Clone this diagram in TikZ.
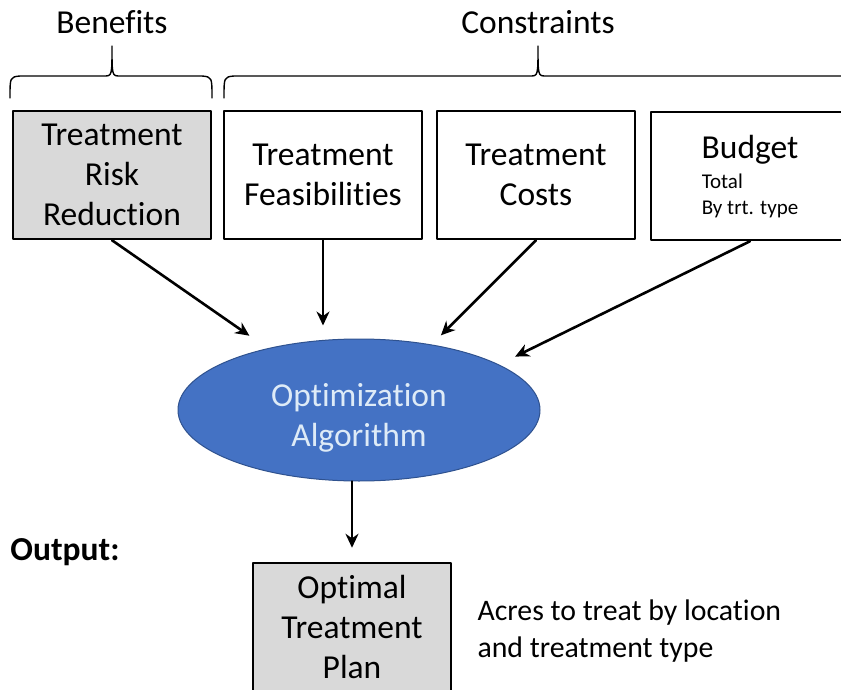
\documentclass[tikz,border=0pt]{standalone}
\usepackage{fontspec}
\setmainfont{Carlito}[Ligatures=NoCommon]
\usetikzlibrary{shapes.geometric, arrows.meta}
\definecolor{boxgray}{RGB}{217,217,217}
\definecolor{algoblue}{RGB}{68,114,196}
\definecolor{algoedge}{RGB}{47,82,143}
\definecolor{algotext}{RGB}{222,235,247}

\begin{document}
\begin{tikzpicture}[x=1pt, y=-1pt, line join=round, line cap=round,
	font=\fontsize{33.5}{40}\selectfont,
	box/.style={draw, line width=2.5pt, minimum width=198pt, minimum height=128pt, align=center, inner sep=2pt},
	arr/.style={-{Stealth[length=14pt, width=13pt]}, line width=2.6pt}]

	\useasboundingbox (0,0) rectangle (841,690);

	% --- headings and braces
	\node (ben) at (112,22) {Benefits};
	\node (con) at (538,22) {Constraints};
	\foreach \a/\m/\b in {10/112/212, 224/538/880} {
		\draw[line width=1.4pt] (\a,98) .. controls (\a,77) .. ({\a+10},76) -- ({\m-8},76) .. controls (\m,76) .. (\m,46) .. controls (\m,76) .. ({\m+8},76) -- ({\b-10},76) .. controls (\b,77) .. (\b,98);
	}

	% --- input boxes
	\node[box, fill=boxgray] (risk) at (112,175) {Treatment\\Risk\\Reduction};
	\node[box] (feas) at (323,175) {Treatment\\Feasibilities};
	\node[box] (cost) at (536,175) {Treatment\\Costs};
	\node[box] (budget) at (750,176) {\begin{tabular}{@{}c@{}}Budget\\[-10pt]
		\fontsize{21}{26}\selectfont\begin{tabular}[t]{@{}l@{}}Total\\By trt. type\end{tabular}\end{tabular}};

	% --- optimizer
	\node[ellipse, fill=algoblue, draw=algoedge, line width=1pt, minimum width=362pt, minimum height=142pt, text=algotext] (algo) at (359,410) {\raisebox{-8pt}[\height][\depth]{\begin{tabular}{@{}c@{}}Optimization\\Algorithm\end{tabular}}};

	\draw[arr, shorten >=22pt] (risk.south) -- (algo.146);
	\draw[arr, shorten >=13pt] (feas.south) -- (feas.south |- algo.north);
	\draw[arr, shorten >=13pt] (cost.south) -- (algo.42);
	\draw[arr, shorten >=18pt] (budget.south) -- (algo.18);

	% --- output
	\node[font=\bfseries\fontsize{33.5}{40}\selectfont] (out) at (65,552) {Output:};
	\node[box, fill=boxgray] (plan) at (352,627) {Optimal\\Treatment\\Plan};
	\draw[arr, shorten >=14pt] (plan.north |- algo.south) -- (plan.north);
	\node[align=left, anchor=west, font=\fontsize{29.8}{37}\selectfont] (note) at (474,631) {Acres to treat by location\\and treatment type};

\end{tikzpicture}
\end{document}
